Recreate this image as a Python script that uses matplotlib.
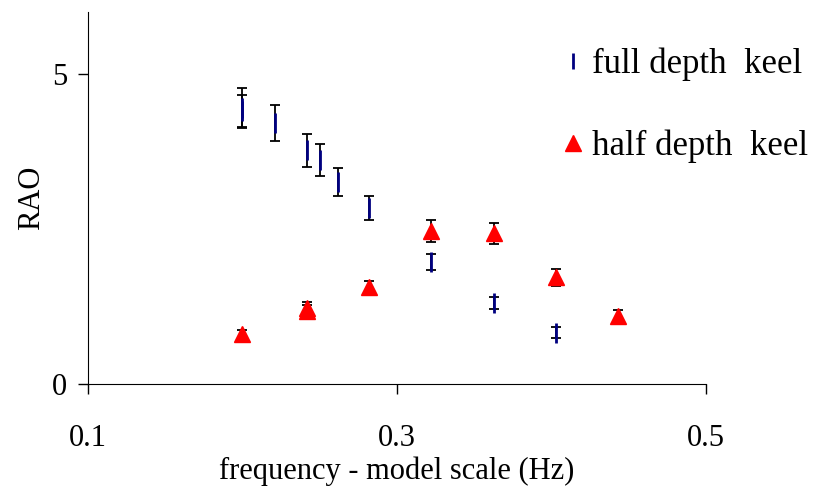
import numpy as np
import matplotlib
matplotlib.use('Agg')
import matplotlib.pyplot as plt

plt.rcParams['font.family'] = 'Liberation Serif'

# full depth keel (two repeats at 0.2 Hz)
full_freq = [0.200, 0.200, 0.221, 0.242, 0.250, 0.262, 0.282, 0.322, 0.363, 0.403]
full_rao = [4.45, 4.40, 4.21, 3.77, 3.62, 3.26, 2.84, 1.97, 1.31, 0.83]
full_err = [0.32, 0.26, 0.29, 0.26, 0.26, 0.23, 0.19, 0.13, 0.10, 0.09]

# half depth keel
half_freq = [0.200, 0.242, 0.242, 0.282, 0.322, 0.363, 0.403, 0.443]
half_rao = [0.80, 1.18, 1.22, 1.57, 2.47, 2.43, 1.72, 1.10]
half_err = [0.07, 0.10, 0.10, 0.09, 0.17, 0.17, 0.13, 0.09]

fsize = 22
lsize = 25

fig = plt.figure(figsize=(8.13, 4.88), dpi=100)
ax = fig.add_axes([0.108, 0.213, 0.760, 0.762])

ax.errorbar(full_freq, full_rao, yerr=full_err, fmt='none', ecolor='k',
            elinewidth=1.3, capsize=3.5, capthick=1.3, zorder=2)
ax.errorbar(half_freq, half_rao, yerr=half_err, fmt='none', ecolor='k',
            elinewidth=1.3, capsize=3.5, capthick=1.3, zorder=2)
ax.plot(full_freq, full_rao, ls='none', marker='|', color='#000080',
        markersize=14, markeredgewidth=2, label='full depth  keel', zorder=3)
ax.plot(half_freq, half_rao, ls='none', marker='^', color='#ff0000',
        markersize=11, label='half depth  keel', zorder=3)

ax.set_xlim(0.1, 0.5)
ax.set_ylim(0, 6)
ax.set_xticks([0.1, 0.3, 0.5])
ax.set_xticklabels(['0.1', '0.3', '0.5'])
ax.set_yticks([0, 5])
ax.tick_params(direction='out', length=7, width=1, labelsize=fsize)
ax.tick_params(axis='x', pad=22)
ax.tick_params(axis='y', pad=8)
for s in ['top', 'right']:
    ax.spines[s].set_visible(False)
ax.set_xlabel('frequency - model scale (Hz)', fontsize=fsize, labelpad=2)
ax.set_ylabel('RAO', fontsize=fsize, labelpad=4)

leg = ax.legend(loc='upper left', bbox_to_anchor=(0.692, 0.903),
                bbox_transform=fig.transFigure, frameon=False, fontsize=lsize,
                handlelength=0.6, handletextpad=0.25, labelspacing=1.4,
                borderaxespad=0, borderpad=0)
leg.legend_handles[0].set_markersize(11)

fig.savefig('out.png', dpi=100)
